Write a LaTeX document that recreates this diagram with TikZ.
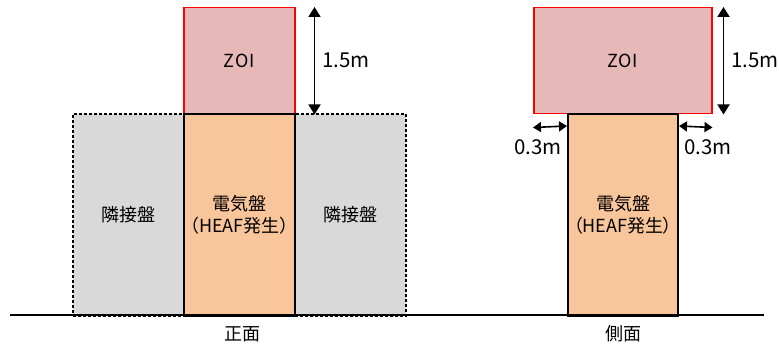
\documentclass[tikz,border=0pt]{standalone}
\usepackage{fontspec}
\setmainfont[RawFeature=+palt]{Noto Sans CJK JP}
\usepackage{xcolor}
\usetikzlibrary{arrows.meta, positioning, calc}

\definecolor{zoifill}{HTML}{E6B8B7}
\definecolor{panelfill}{HTML}{F9C59A}
\definecolor{nbfill}{HTML}{D9D9D9}

\begin{document}
\begin{tikzpicture}[
    x=1pt, y=-1pt,
    panel/.style={rectangle, draw=black, line width=2pt, fill=panelfill, anchor=north west, inner sep=0pt, align=center, font=\fontsize{18}{22}\selectfont},
    nbpanel/.style={rectangle, draw=black, line width=1.6pt, dash pattern=on 3pt off 2pt, fill=nbfill, anchor=north west, inner sep=0pt, font=\fontsize{18}{20}\selectfont},
    zoibox/.style={rectangle, draw=red, line width=1.5pt, fill=zoifill, anchor=north west, inner sep=0pt, font=\fontsize{18}{20}\selectfont\addfontfeature{LetterSpace=5}},
    dim/.style={{Triangle[length=10pt,width=12pt]}-{Triangle[length=10pt,width=12pt]}, line width=1.8pt},
    sdim/.style={{Triangle[length=8pt,width=10pt]}-{Triangle[length=8pt,width=10pt]}, line width=1.6pt},
    dimlbl/.style={font=\fontsize{20.5}{22}\selectfont, inner sep=0pt},
    viewlbl/.style={font=\fontsize{18}{20}\selectfont}
]
\useasboundingbox[fill=white] (0,0) rectangle (779,347);

% Front view
\node[nbpanel, minimum width=111pt, minimum height=202pt] (nbL) at (72,113) {隣接盤};
\node[nbpanel, minimum width=111pt, minimum height=202pt] (nbR) at (294,113) {隣接盤};
\node[zoibox, minimum width=111pt, minimum height=106pt] (zoiF) at (183,7) {ZOI};
\node[panel, minimum width=111pt, minimum height=202pt] (elecF) at (183,113) {電気盤\\（HEAF発生）};

% Side view
\node[zoibox, minimum width=178pt, minimum height=106pt] (zoiS) at (533,7) {ZOI};
\node[panel, minimum width=110pt, minimum height=202pt] (elecS) at (567,113) {電気盤\\（HEAF発生）};

% Ground line
\coordinate (gndL) at (10,315);
\coordinate (gndR) at (764,315);
\draw[line width=1.5pt] (gndL) -- (gndR);

% Dimensions
\draw[dim] ([xshift=19pt]zoiF.north east) -- node[right=7pt, dimlbl] {1.5m} ([xshift=19pt]zoiF.south east);
\draw[dim] ([xshift=11pt]zoiS.north east) -- node[right=7pt, dimlbl] {1.5m} ([xshift=11pt]zoiS.south east);
\draw[sdim] ([yshift=-13pt]zoiS.south west) -- ([yshift=-13pt]elecS.north west);
\draw[sdim] ([yshift=-13pt]elecS.north east) -- ([yshift=-13pt]zoiS.south east);
\node[dimlbl, anchor=east] (offL) at ([xshift=-5pt,yshift=-34pt]elecS.north west) {0.3m};
\node[dimlbl, anchor=west] (offR) at ([xshift=5pt,yshift=-34pt]elecS.north east) {0.3m};

% View labels
\node[viewlbl] (front) at (242,334) {正面};
\node[viewlbl] (side) at (623,334) {側面};

\end{tikzpicture}
\end{document}
